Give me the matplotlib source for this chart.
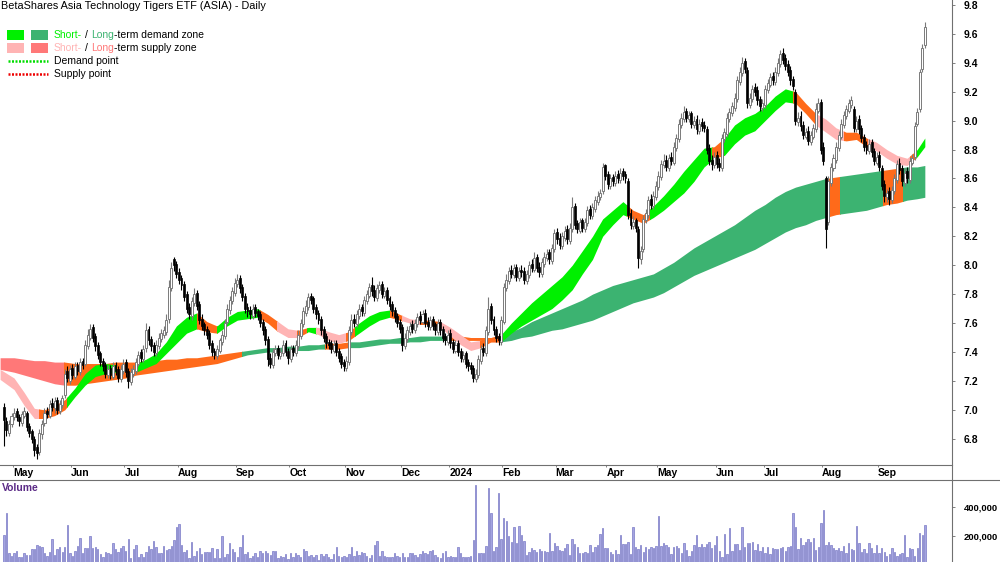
import numpy as np
import matplotlib.pyplot as plt
from matplotlib.patches import Rectangle
from matplotlib.lines import Line2D

plt.rcParams['font.family'] = ['Liberation Sans', 'DejaVu Sans']

title = "BetaShares Asia Technology Tigers ETF (ASIA) - Daily"

# daily candles, 24 Apr 2023 .. 26 Sep 2024
o = [7.02, 6.92, 6.84, 6.90, 6.95, 6.99, 6.95, 6.91,
     6.96, 6.98, 6.89, 6.85, 6.80, 6.74, 6.71, 6.83,
     6.91, 6.99, 6.96, 7.05, 7.01, 7.07, 6.99, 7.03,
     7.10, 7.27, 7.20, 7.29, 7.23, 7.31, 7.26, 7.34,
     7.32, 7.44, 7.50, 7.57, 7.51, 7.45, 7.39, 7.34,
     7.31, 7.24, 7.29, 7.23, 7.31, 7.28, 7.21, 7.27,
     7.33, 7.27, 7.19, 7.25, 7.27, 7.32, 7.40, 7.35,
     7.43, 7.56, 7.49, 7.45, 7.39, 7.44, 7.49, 7.52,
     7.54, 7.63, 7.84, 8.04, 8.01, 7.95, 7.91, 7.87,
     7.80, 7.71, 7.65, 7.74, 7.81, 7.73, 7.63, 7.59,
     7.56, 7.53, 7.46, 7.41, 7.37, 7.41, 7.47, 7.51,
     7.61, 7.69, 7.75, 7.81, 7.87, 7.91, 7.85, 7.79,
     7.71, 7.69, 7.65, 7.71, 7.68, 7.66, 7.61, 7.56,
     7.49, 7.36, 7.31, 7.39, 7.43, 7.37, 7.39, 7.46,
     7.41, 7.35, 7.43, 7.39, 7.44, 7.51, 7.59, 7.67,
     7.71, 7.79, 7.77, 7.71, 7.67, 7.63, 7.56, 7.51,
     7.47, 7.46, 7.41, 7.46, 7.41, 7.37, 7.33, 7.29,
     7.33, 7.54, 7.63, 7.59, 7.65, 7.71, 7.67, 7.75,
     7.79, 7.86, 7.83, 7.77, 7.83, 7.87, 7.79, 7.83,
     7.77, 7.73, 7.69, 7.65, 7.61, 7.57, 7.44, 7.49,
     7.54, 7.59, 7.55, 7.59, 7.65, 7.61, 7.67, 7.61,
     7.57, 7.63, 7.59, 7.54, 7.61, 7.56, 7.51, 7.47,
     7.53, 7.47, 7.41, 7.46, 7.41, 7.35, 7.39, 7.33,
     7.31, 7.29, 7.21, 7.24, 7.34, 7.43, 7.39, 7.54,
     7.72, 7.63, 7.56, 7.51, 7.47, 7.61, 7.84, 7.89,
     7.97, 7.93, 7.99, 7.91, 7.97, 7.96, 7.89, 7.93,
     8.01, 7.97, 8.06, 7.99, 7.94, 8.01, 8.05, 8.09,
     8.03, 8.11, 8.23, 8.19, 8.13, 8.19, 8.25, 8.17,
     8.25, 8.41, 8.29, 8.24, 8.31, 8.25, 8.29, 8.39,
     8.34, 8.39, 8.44, 8.47, 8.51, 8.69, 8.63, 8.55,
     8.61, 8.57, 8.63, 8.59, 8.65, 8.63, 8.58, 8.36,
     8.27, 8.31, 8.25, 8.04, 8.11, 8.31, 8.35, 8.46,
     8.41, 8.47, 8.54, 8.61, 8.69, 8.73, 8.67, 8.75,
     8.71, 8.81, 8.87, 8.97, 9.01, 9.07, 9.01, 9.05,
     8.97, 9.01, 8.93, 8.99, 8.97, 8.94, 8.81, 8.73,
     8.69, 8.76, 8.71, 8.67, 8.87, 8.91, 9.01, 9.05,
     9.09, 9.15, 9.27, 9.33, 9.41, 9.35, 9.11, 9.15,
     9.23, 9.21, 9.15, 9.09, 9.11, 9.21, 9.25, 9.31,
     9.27, 9.33, 9.39, 9.47, 9.43, 9.39, 9.35, 9.29,
     9.20, 8.99, 9.03, 8.97, 8.89, 8.93, 8.85, 8.89,
     8.94, 9.07, 9.13, 8.82, 8.60, 8.30, 8.57, 8.67,
     8.73, 8.81, 8.89, 8.97, 9.03, 9.07, 9.11, 9.08,
     8.94, 9.01, 8.95, 8.89, 8.83, 8.79, 8.85, 8.79,
     8.71, 8.76, 8.67, 8.56, 8.47, 8.51, 8.45, 8.51,
     8.59, 8.71, 8.67, 8.57, 8.65, 8.59, 8.71, 8.75,
     8.98, 9.08, 9.36, 9.52]

h = [7.05, 6.95, 6.93, 6.98, 7.01, 7.01, 6.97, 6.99,
     7.02, 6.99, 6.91, 6.87, 6.82, 6.76, 6.87, 6.93,
     7.01, 7.02, 7.07, 7.08, 7.09, 7.09, 7.07, 7.10,
     7.28, 7.30, 7.31, 7.32, 7.33, 7.33, 7.36, 7.36,
     7.48, 7.56, 7.59, 7.59, 7.53, 7.47, 7.41, 7.36,
     7.33, 7.31, 7.31, 7.33, 7.33, 7.30, 7.31, 7.35,
     7.35, 7.29, 7.29, 7.31, 7.36, 7.41, 7.42, 7.45,
     7.60, 7.58, 7.51, 7.47, 7.48, 7.53, 7.56, 7.58,
     7.66, 7.90, 8.02, 8.06, 8.03, 7.98, 7.93, 7.89,
     7.82, 7.74, 7.78, 7.84, 7.83, 7.75, 7.66, 7.61,
     7.58, 7.55, 7.48, 7.43, 7.45, 7.50, 7.55, 7.63,
     7.73, 7.79, 7.85, 7.91, 7.94, 7.93, 7.87, 7.81,
     7.74, 7.72, 7.73, 7.73, 7.70, 7.68, 7.63, 7.58,
     7.51, 7.39, 7.43, 7.45, 7.45, 7.43, 7.48, 7.48,
     7.43, 7.45, 7.45, 7.48, 7.55, 7.63, 7.71, 7.76,
     7.81, 7.81, 7.79, 7.73, 7.69, 7.65, 7.58, 7.53,
     7.49, 7.48, 7.48, 7.48, 7.43, 7.39, 7.35, 7.37,
     7.58, 7.66, 7.66, 7.69, 7.73, 7.73, 7.79, 7.83,
     7.88, 7.92, 7.86, 7.87, 7.89, 7.89, 7.85, 7.85,
     7.79, 7.75, 7.71, 7.67, 7.63, 7.59, 7.53, 7.58,
     7.61, 7.62, 7.63, 7.67, 7.68, 7.69, 7.70, 7.64,
     7.65, 7.65, 7.61, 7.63, 7.63, 7.58, 7.53, 7.55,
     7.56, 7.49, 7.48, 7.48, 7.43, 7.41, 7.41, 7.35,
     7.33, 7.31, 7.28, 7.38, 7.45, 7.46, 7.58, 7.78,
     7.74, 7.65, 7.58, 7.53, 7.65, 7.88, 7.94, 7.99,
     8.00, 8.01, 8.01, 7.99, 8.00, 7.99, 7.97, 8.03,
     8.04, 8.09, 8.08, 8.02, 8.05, 8.09, 8.11, 8.11,
     8.15, 8.25, 8.26, 8.22, 8.23, 8.27, 8.28, 8.29,
     8.47, 8.43, 8.31, 8.33, 8.33, 8.33, 8.41, 8.42,
     8.43, 8.48, 8.51, 8.53, 8.71, 8.70, 8.65, 8.63,
     8.63, 8.65, 8.66, 8.67, 8.67, 8.65, 8.60, 8.39,
     8.34, 8.33, 8.27, 8.13, 8.35, 8.39, 8.48, 8.49,
     8.51, 8.58, 8.65, 8.73, 8.77, 8.76, 8.77, 8.78,
     8.85, 8.91, 9.01, 9.05, 9.10, 9.09, 9.07, 9.07,
     9.03, 9.04, 9.01, 9.02, 9.00, 8.96, 8.84, 8.76,
     8.78, 8.79, 8.74, 8.91, 8.95, 9.05, 9.09, 9.13,
     9.19, 9.31, 9.37, 9.44, 9.43, 9.37, 9.19, 9.25,
     9.26, 9.24, 9.17, 9.15, 9.25, 9.29, 9.33, 9.34,
     9.37, 9.43, 9.49, 9.50, 9.46, 9.42, 9.38, 9.31,
     9.22, 9.06, 9.07, 9.00, 8.95, 8.96, 8.93, 8.98,
     9.12, 9.16, 9.15, 8.85, 8.62, 8.62, 8.71, 8.77,
     8.85, 8.93, 9.01, 9.07, 9.11, 9.15, 9.17, 9.10,
     9.03, 9.04, 8.97, 8.91, 8.86, 8.87, 8.87, 8.81,
     8.78, 8.79, 8.69, 8.59, 8.53, 8.54, 8.55, 8.63,
     8.73, 8.74, 8.69, 8.67, 8.68, 8.75, 8.77, 8.99,
     9.09, 9.36, 9.53, 9.68]

l = [6.75, 6.82, 6.82, 6.88, 6.93, 6.92, 6.89, 6.89,
     6.94, 6.85, 6.81, 6.77, 6.68, 6.66, 6.69, 6.80,
     6.89, 6.94, 6.94, 6.99, 6.98, 6.97, 6.97, 7.01,
     7.08, 7.19, 7.18, 7.21, 7.21, 7.24, 7.24, 7.28,
     7.30, 7.42, 7.48, 7.47, 7.41, 7.35, 7.30, 7.27,
     7.22, 7.22, 7.21, 7.21, 7.24, 7.19, 7.19, 7.25,
     7.23, 7.15, 7.17, 7.23, 7.25, 7.30, 7.33, 7.33,
     7.40, 7.45, 7.41, 7.37, 7.37, 7.42, 7.47, 7.50,
     7.52, 7.60, 7.82, 7.96, 7.91, 7.87, 7.83, 7.75,
     7.67, 7.63, 7.62, 7.72, 7.69, 7.59, 7.55, 7.52,
     7.49, 7.42, 7.37, 7.35, 7.35, 7.39, 7.45, 7.49,
     7.59, 7.66, 7.73, 7.79, 7.85, 7.81, 7.75, 7.67,
     7.64, 7.63, 7.63, 7.64, 7.62, 7.57, 7.52, 7.45,
     7.30, 7.29, 7.29, 7.37, 7.35, 7.35, 7.37, 7.37,
     7.32, 7.33, 7.37, 7.37, 7.42, 7.49, 7.57, 7.65,
     7.69, 7.73, 7.67, 7.63, 7.59, 7.52, 7.47, 7.43,
     7.42, 7.39, 7.39, 7.37, 7.33, 7.29, 7.27, 7.27,
     7.31, 7.52, 7.57, 7.57, 7.63, 7.65, 7.65, 7.73,
     7.77, 7.79, 7.75, 7.75, 7.81, 7.77, 7.77, 7.73,
     7.69, 7.65, 7.61, 7.57, 7.53, 7.41, 7.42, 7.47,
     7.52, 7.53, 7.53, 7.57, 7.59, 7.59, 7.57, 7.55,
     7.55, 7.55, 7.52, 7.52, 7.52, 7.47, 7.45, 7.45,
     7.43, 7.39, 7.39, 7.37, 7.33, 7.33, 7.29, 7.27,
     7.25, 7.19, 7.19, 7.22, 7.32, 7.37, 7.37, 7.52,
     7.59, 7.52, 7.47, 7.45, 7.45, 7.59, 7.82, 7.87,
     7.91, 7.91, 7.89, 7.89, 7.92, 7.87, 7.87, 7.91,
     7.95, 7.95, 7.95, 7.92, 7.92, 7.99, 8.03, 8.01,
     8.01, 8.09, 8.15, 8.11, 8.11, 8.17, 8.15, 8.15,
     8.23, 8.25, 8.22, 8.22, 8.23, 8.23, 8.27, 8.32,
     8.32, 8.37, 8.42, 8.45, 8.49, 8.59, 8.53, 8.53,
     8.55, 8.55, 8.57, 8.57, 8.59, 8.57, 8.32, 8.25,
     8.25, 8.23, 7.98, 8.01, 8.09, 8.29, 8.33, 8.39,
     8.39, 8.45, 8.52, 8.59, 8.67, 8.65, 8.65, 8.69,
     8.69, 8.79, 8.85, 8.95, 8.99, 8.99, 8.99, 8.95,
     8.95, 8.91, 8.91, 8.93, 8.92, 8.77, 8.69, 8.66,
     8.67, 8.67, 8.65, 8.65, 8.85, 8.89, 8.99, 9.03,
     9.07, 9.13, 9.25, 9.31, 9.33, 9.09, 9.09, 9.13,
     9.17, 9.11, 9.07, 9.07, 9.09, 9.19, 9.23, 9.25,
     9.25, 9.31, 9.37, 9.39, 9.35, 9.31, 9.25, 9.21,
     8.97, 8.96, 8.93, 8.87, 8.87, 8.83, 8.83, 8.87,
     8.92, 9.05, 8.77, 8.69, 8.12, 8.28, 8.55, 8.65,
     8.71, 8.79, 8.87, 8.95, 9.01, 9.05, 9.09, 8.92,
     8.92, 8.91, 8.85, 8.79, 8.77, 8.77, 8.75, 8.69,
     8.69, 8.65, 8.52, 8.44, 8.44, 8.42, 8.43, 8.49,
     8.57, 8.63, 8.55, 8.55, 8.57, 8.57, 8.69, 8.73,
     8.96, 9.06, 9.34, 9.50]

c = [6.93, 6.86, 6.90, 6.96, 6.98, 6.95, 6.92, 6.97,
     6.99, 6.88, 6.84, 6.80, 6.72, 6.70, 6.84, 6.90,
     6.98, 6.97, 7.04, 7.02, 7.06, 7.00, 7.04, 7.08,
     7.25, 7.22, 7.28, 7.24, 7.30, 7.27, 7.33, 7.31,
     7.45, 7.52, 7.56, 7.50, 7.44, 7.38, 7.33, 7.30,
     7.25, 7.28, 7.24, 7.30, 7.27, 7.22, 7.28, 7.32,
     7.26, 7.20, 7.26, 7.28, 7.33, 7.38, 7.36, 7.42,
     7.55, 7.48, 7.44, 7.40, 7.45, 7.50, 7.53, 7.55,
     7.62, 7.85, 7.98, 8.00, 7.94, 7.90, 7.86, 7.78,
     7.70, 7.66, 7.75, 7.80, 7.72, 7.62, 7.58, 7.55,
     7.52, 7.45, 7.40, 7.38, 7.42, 7.48, 7.52, 7.60,
     7.70, 7.76, 7.82, 7.88, 7.90, 7.84, 7.78, 7.70,
     7.68, 7.66, 7.70, 7.67, 7.65, 7.60, 7.55, 7.48,
     7.35, 7.32, 7.40, 7.42, 7.38, 7.40, 7.45, 7.40,
     7.36, 7.42, 7.40, 7.45, 7.52, 7.60, 7.68, 7.72,
     7.78, 7.76, 7.70, 7.66, 7.62, 7.55, 7.50, 7.46,
     7.45, 7.42, 7.45, 7.40, 7.36, 7.32, 7.30, 7.34,
     7.55, 7.62, 7.60, 7.66, 7.70, 7.68, 7.76, 7.80,
     7.85, 7.82, 7.78, 7.84, 7.86, 7.80, 7.82, 7.76,
     7.72, 7.68, 7.64, 7.60, 7.56, 7.45, 7.50, 7.55,
     7.58, 7.56, 7.60, 7.64, 7.62, 7.66, 7.60, 7.58,
     7.62, 7.58, 7.55, 7.60, 7.55, 7.50, 7.48, 7.52,
     7.46, 7.42, 7.45, 7.40, 7.36, 7.38, 7.32, 7.30,
     7.28, 7.22, 7.25, 7.35, 7.42, 7.40, 7.55, 7.70,
     7.62, 7.55, 7.50, 7.48, 7.62, 7.85, 7.90, 7.96,
     7.94, 7.98, 7.92, 7.96, 7.95, 7.90, 7.94, 8.00,
     7.98, 8.05, 7.98, 7.95, 8.02, 8.06, 8.08, 8.04,
     8.12, 8.22, 8.18, 8.14, 8.20, 8.24, 8.18, 8.26,
     8.40, 8.28, 8.25, 8.30, 8.26, 8.30, 8.38, 8.35,
     8.40, 8.45, 8.48, 8.50, 8.68, 8.62, 8.56, 8.60,
     8.58, 8.62, 8.60, 8.64, 8.62, 8.60, 8.35, 8.28,
     8.30, 8.26, 8.05, 8.10, 8.32, 8.36, 8.45, 8.42,
     8.48, 8.55, 8.62, 8.70, 8.72, 8.68, 8.74, 8.72,
     8.82, 8.88, 8.98, 9.02, 9.06, 9.02, 9.04, 8.98,
     9.00, 8.94, 8.98, 8.96, 8.95, 8.80, 8.72, 8.70,
     8.75, 8.70, 8.68, 8.88, 8.92, 9.02, 9.06, 9.10,
     9.16, 9.28, 9.34, 9.40, 9.36, 9.12, 9.16, 9.22,
     9.20, 9.14, 9.10, 9.12, 9.22, 9.26, 9.30, 9.28,
     9.34, 9.40, 9.46, 9.42, 9.38, 9.34, 9.28, 9.24,
     9.00, 9.02, 8.96, 8.90, 8.92, 8.86, 8.90, 8.95,
     9.08, 9.12, 8.80, 8.72, 8.25, 8.58, 8.68, 8.74,
     8.82, 8.90, 8.98, 9.04, 9.08, 9.12, 9.14, 8.95,
     9.00, 8.94, 8.88, 8.82, 8.80, 8.84, 8.78, 8.72,
     8.75, 8.68, 8.55, 8.48, 8.50, 8.46, 8.52, 8.60,
     8.70, 8.66, 8.58, 8.64, 8.60, 8.72, 8.74, 8.96,
     9.06, 9.34, 9.50, 9.65]

# volume in thousands of units
vol = [205, 357, 76, 57, 76, 92, 48, 48, 80, 64,
       64, 104, 104, 134, 127, 118, 80, 57, 87, 174,
       64, 104, 123, 87, 123, 275, 76, 57, 94, 127,
       181, 80, 111, 111, 198, 111, 118, 104, 71, 48,
       87, 76, 71, 151, 104, 87, 111, 127, 92, 174,
       40, 104, 134, 48, 71, 52, 87, 127, 104, 162,
       118, 76, 76, 127, 99, 104, 127, 170, 259, 282,
       134, 87, 99, 40, 158, 57, 94, 111, 71, 87,
       87, 87, 111, 40, 104, 40, 198, 52, 71, 146,
       104, 87, 48, 123, 205, 71, 87, 40, 57, 80,
       52, 94, 80, 92, 76, 64, 94, 94, 40, 57,
       52, 71, 33, 76, 48, 76, 64, 48, 104, 94,
       57, 64, 48, 64, 29, 71, 57, 71, 52, 33,
       71, 118, 57, 52, 57, 52, 71, 118, 57, 94,
       64, 87, 80, 57, 40, 64, 134, 165, 57, 94,
       57, 52, 48, 52, 80, 57, 48, 80, 52, 52,
       80, 80, 64, 48, 71, 92, 80, 71, 94, 99,
       64, 48, 40, 76, 92, 48, 57, 52, 48,
       118, 76, 48, 48, 48, 57, 170,
       557, 80, 80, 80, 127, 533, 357, 94,
       123, 503,
       174, 322, 306, 198, 158, 259, 146, 270, 205, 165,
       64, 87, 111, 99, 87, 104, 94, 94, 87, 221,
       94, 151, 127, 99, 94, 111, 141, 64, 174, 141,
       118, 80, 76, 87, 80, 134, 87, 123, 134, 212,
       252, 111, 111, 87, 71, 99, 71, 205, 141, 141,
       158, 71, 259, 118, 104, 134, 87, 123, 104, 123,
       111, 127, 339, 127, 151, 134, 123, 71, 123, 127,
       111, 80, 146, 99, 57, 94, 134, 205, 123, 141,
       123, 141, 158, 111, 134, 198, 94, 52, 212, 71,
       252, 94, 141, 139, 99, 263, 118, 151, 151, 158,
       99, 141, 94, 123, 80, 118, 71, 111, 104, 104,
       111, 118, 94, 123, 127, 357, 259, 104, 181, 134,
       158, 174, 158, 181, 99, 123, 287, 381, 134, 158,
       134, 111, 99, 111, 94, 127, 76, 146, 104, 99,
       268, 151, 87, 104, 76, 151, 111, 80, 134, 80,
       111, 87, 57, 71, 111, 87, 57, 71, 76, 205,
       48, 111, 104, 57, 111, 221, 205, 275]

# zone edges, read every 4th session
zone_x = [-1.5] + list(range(4, 361, 4)) + [363]
st_hi = [7.28, 7.22, 7.12, 7.01, 7.00, 7.03, 7.07, 7.15, 7.25, 7.31,
         7.32, 7.31, 7.31, 7.32, 7.35, 7.39, 7.47, 7.58, 7.64, 7.67,
         7.61, 7.58, 7.64, 7.68, 7.69, 7.70, 7.66, 7.61, 7.56, 7.55,
         7.57, 7.57, 7.54, 7.52, 7.54, 7.60, 7.65, 7.68, 7.69, 7.66,
         7.63, 7.62, 7.62, 7.61, 7.57, 7.52, 7.47, 7.48, 7.50, 7.52,
         7.60, 7.67, 7.74, 7.80, 7.86, 7.92, 8.00, 8.10, 8.20, 8.32,
         8.38, 8.44, 8.38, 8.35, 8.41, 8.48, 8.56, 8.65, 8.73, 8.81,
         8.82, 8.88, 8.97, 9.02, 9.05, 9.10, 9.17, 9.22, 9.20, 9.12,
         9.05, 9.01, 8.95, 8.92, 8.92, 8.88, 8.85, 8.80, 8.76, 8.74,
         8.80, 8.88]
st_lo = [7.21, 7.14, 7.03, 6.94, 6.94, 6.96, 7.00, 7.09, 7.17, 7.23,
         7.25, 7.26, 7.25, 7.26, 7.29, 7.32, 7.39, 7.46, 7.53, 7.56,
         7.54, 7.53, 7.58, 7.62, 7.63, 7.64, 7.60, 7.54, 7.50, 7.50,
         7.54, 7.52, 7.48, 7.46, 7.48, 7.53, 7.58, 7.62, 7.64, 7.62,
         7.60, 7.59, 7.59, 7.57, 7.51, 7.45, 7.41, 7.43, 7.47, 7.47,
         7.53, 7.58, 7.62, 7.66, 7.70, 7.76, 7.83, 7.94, 8.04, 8.20,
         8.28, 8.35, 8.32, 8.29, 8.33, 8.38, 8.44, 8.50, 8.58, 8.68,
         8.74, 8.76, 8.84, 8.90, 8.93, 9.00, 9.07, 9.13, 9.12, 9.05,
         8.97, 8.92, 8.87, 8.86, 8.87, 8.82, 8.79, 8.74, 8.70, 8.69,
         8.75, 8.82]
lt_hi = [7.36, 7.36, 7.35, 7.34, 7.34, 7.33, 7.33, 7.32, 7.32, 7.32,
         7.32, 7.33, 7.33, 7.33, 7.34, 7.34, 7.35, 7.35, 7.36, 7.36,
         7.37, 7.38, 7.39, 7.40, 7.41, 7.42, 7.43, 7.43, 7.44, 7.44,
         7.45, 7.45, 7.46, 7.46, 7.47, 7.47, 7.48, 7.49, 7.49, 7.50,
         7.50, 7.51, 7.51, 7.51, 7.51, 7.51, 7.50, 7.50, 7.50, 7.51,
         7.54, 7.57, 7.61, 7.64, 7.67, 7.70, 7.73, 7.76, 7.80, 7.83,
         7.86, 7.88, 7.90, 7.92, 7.94, 7.98, 8.02, 8.07, 8.12, 8.16,
         8.20, 8.24, 8.28, 8.33, 8.38, 8.42, 8.47, 8.51, 8.54, 8.56,
         8.58, 8.60, 8.61, 8.62, 8.63, 8.64, 8.65, 8.66, 8.67, 8.68,
         8.68, 8.69]
lt_lo = [7.28, 7.26, 7.24, 7.22, 7.20, 7.18, 7.17, 7.17, 7.18, 7.19,
         7.20, 7.21, 7.22, 7.24, 7.25, 7.26, 7.27, 7.28, 7.29, 7.30,
         7.31, 7.32, 7.34, 7.36, 7.38, 7.39, 7.40, 7.40, 7.41, 7.41,
         7.41, 7.42, 7.42, 7.42, 7.43, 7.43, 7.44, 7.45, 7.46, 7.46,
         7.47, 7.47, 7.48, 7.48, 7.48, 7.48, 7.48, 7.48, 7.47, 7.47,
         7.48, 7.50, 7.51, 7.53, 7.55, 7.56, 7.58, 7.60, 7.62, 7.65,
         7.68, 7.71, 7.74, 7.76, 7.78, 7.81, 7.85, 7.89, 7.93, 7.96,
         7.99, 8.02, 8.05, 8.08, 8.11, 8.15, 8.19, 8.23, 8.26, 8.28,
         8.31, 8.33, 8.35, 8.36, 8.37, 8.38, 8.40, 8.42, 8.43, 8.45,
         8.46, 8.47]

# zone state changes (session index) and state of each stretch
st_breaks = [-2, 14, 25, 44.5, 52.5, 76, 84, 101, 107.5, 115.5,
             119.5, 123, 135, 138.5, 152, 157, 164, 172, 187.5, 195.5,
             245.5, 254.5, 279, 283, 311, 320.5, 331, 340.5, 357, 359.5, 366]
st_state = ['supply', 'inside', 'demand', 'inside', 'demand', 'inside', 'demand', 'inside', 'supply', 'inside',
            'demand', 'supply', 'inside', 'demand', 'inside', 'supply', 'inside', 'supply', 'inside', 'demand',
            'inside', 'demand', 'inside', 'demand', 'inside', 'supply', 'inside', 'supply', 'inside', 'demand']
lt_breaks = [-2, 23.5, 94, 126.5, 135.5, 174.5, 195.5, 324.5, 329.5, 346.5, 354.5, 366]
lt_state = ['supply', 'inside', 'demand', 'inside', 'demand', 'inside', 'demand', 'inside', 'demand', 'inside', 'demand']

month_names = ['May', 'Jun', 'Jul', 'Aug', 'Sep', 'Oct', 'Nov', 'Dec', '2024',
               'Feb', 'Mar', 'Apr', 'May', 'Jun', 'Jul', 'Aug', 'Sep']
month_start = [4, 27, 48, 69, 92, 113, 135, 157, 176,
               197, 218, 238, 258, 281, 300, 323, 345]
price_ticks = [6.8, 7.0, 7.2, 7.4, 7.6, 7.8, 8.0, 8.2, 8.4, 8.6, 8.8, 9.0, 9.2, 9.4, 9.6, 9.8]
vol_ticks = [200, 400]

st_col = {'demand': '#00f000', 'supply': '#ffb4b4', 'inside': '#ff6a1a'}
lt_col = {'demand': '#3cb371', 'supply': '#ff7878', 'inside': '#ff6a1a'}

W, H = 1000, 562
def fx(px):
    return px / W
def fy(py):
    return 1 - py / H

fig = plt.figure(figsize=(10, 5.62), dpi=100)
ax = fig.add_axes([0, fy(465), fx(952), 465 / H])
axv = fig.add_axes([0, 0, fx(952), (H - 480) / H])

o, h, l, c, vol = map(np.array, (o, h, l, c, vol))
x = np.arange(len(c))

def zone(xs, lo, hi, breaks, states, cols, z):
    for k, s in enumerate(states):
        poly = ax.fill_between(xs, lo, hi, color=cols[s], linewidth=0, zorder=z)
        poly.set_clip_path(Rectangle((breaks[k], 0), breaks[k + 1] - breaks[k], 100,
                                     transform=ax.transData))

zone(zone_x, lt_lo, lt_hi, lt_breaks, lt_state, lt_col, 1)
zone(zone_x, st_lo, st_hi, st_breaks, st_state, st_col, 2)

up = c >= o
dn = ~up
ax.vlines(x[up], l[up], h[up], color='#7a7a7a', lw=0.8, zorder=3)
ax.vlines(x[dn], l[dn], h[dn], color='black', lw=0.8, zorder=3)
ax.bar(x[up], c[up] - o[up], bottom=o[up], width=0.8, color='white',
       edgecolor='#7a7a7a', linewidth=0.7, zorder=4)
ax.bar(x[dn], o[dn] - c[dn], bottom=c[dn], width=0.75, color='black',
       edgecolor='black', linewidth=0.5, zorder=4)

xlim = (-3.9 / 2.537, (952 - 3.9) / 2.537)
ax.set_xlim(*xlim)
ax.set_ylim(9.8 - 460 / 144.57, 9.8 + 5 / 144.57)
ax.yaxis.tick_right()
ax.set_yticks(price_ticks)
ax.set_yticklabels([f'{v:.1f}' for v in price_ticks], fontweight='bold')
ax.tick_params(axis='y', direction='out', length=2.5, width=0.7, color='#808080',
               pad=6, labelsize=7.5)
ax.set_xticks([m - 0.5 for m in month_start])
ax.set_xticklabels(month_names, fontweight='bold', ha='left')
ax.tick_params(axis='x', direction='out', length=1.5, width=0.7, color='#808080',
               pad=1, labelsize=7.5)
for s in ax.spines.values():
    s.set_visible(False)

axv.bar(x, vol, width=0.55, color='#a4a4e0', edgecolor='#7a7ac6', linewidth=0.5)
axv.set_xlim(*xlim)
axv.set_ylim(14.8, 592)
axv.set_xticks([])
axv.yaxis.tick_right()
axv.set_yticks(vol_ticks)
axv.set_yticklabels([f'{v * 1000:,}' for v in vol_ticks], fontweight='bold')
axv.tick_params(axis='y', direction='out', length=2.5, width=0.7, color='#808080',
                pad=6, labelsize=6.8)
for s in axv.spines.values():
    s.set_visible(False)

# frame lines
line_c = '#707070'
fig.add_artist(Line2D([0, fx(952)], [fy(465)] * 2, color=line_c, lw=0.8))
fig.add_artist(Line2D([0, 1], [fy(480)] * 2, color=line_c, lw=0.8))
fig.add_artist(Line2D([fx(952)] * 2, [0, 1], color=line_c, lw=0.8))

fig.text(fx(1), fy(6), title, fontsize=7.8, va='center', ha='left')
fig.text(fx(2), fy(488), 'Volume', fontsize=7.5, fontweight='bold', color='#5b2a86',
         va='center', ha='left')

# legend
for (x0, y0, col) in [(7, 30, st_col['demand']), (31, 30, lt_col['demand']),
                      (7, 43, st_col['supply']), (31, 43, lt_col['supply'])]:
    fig.add_artist(Rectangle((fx(x0), fy(y0 + 10)), fx(17), 10 / H,
                             transform=fig.transFigure, color=col, lw=0))
fig.add_artist(Line2D([fx(8), fx(48)], [fy(61)] * 2, color='#00dd00', lw=1.8,
                      linestyle=(0, (0.8, 0.6))))
fig.add_artist(Line2D([fx(8), fx(48)], [fy(74)] * 2, color='#ee0000', lw=1.8,
                      linestyle=(0, (0.8, 0.6))))

renderer = fig.canvas.get_renderer()

def rich(xp, yp, parts):
    for s, col, gap in parts:
        t = fig.text(fx(xp), fy(yp), s, color=col, fontsize=7.5, va='center', ha='left')
        xp += t.get_window_extent(renderer=renderer).width + gap

rich(54, 35, [('Short-', st_col['demand'], 3), ('/', 'black', 3),
              ('Long', lt_col['demand'], 0), ('-term demand zone', 'black', 0)])
rich(54, 48, [('Short-', st_col['supply'], 3), ('/', 'black', 3),
              ('Long', lt_col['supply'], 0), ('-term supply zone', 'black', 0)])
fig.text(fx(54), fy(61), 'Demand point', fontsize=7.5, va='center', ha='left')
fig.text(fx(54), fy(74), 'Supply point', fontsize=7.5, va='center', ha='left')

fig.savefig('out.png', dpi=100)
